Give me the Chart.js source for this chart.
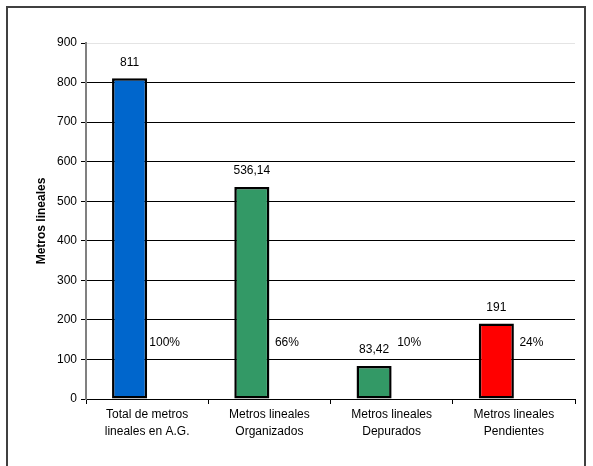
<!DOCTYPE html>
<html>
<head>
<meta charset="utf-8">
<script src="https://cdn.jsdelivr.net/npm/chart.js@4/dist/chart.umd.min.js"></script>
<style>
  html, body { margin: 0; padding: 0; background: #fff; }
  #wrap { width: 593px; height: 466px; position: relative; }
</style>
</head>
<body>
<div id="wrap"><canvas id="chart"></canvas></div>
<script>
// data
const categories = [
  ['Total de metros', 'lineales en A.G.'],
  ['Metros lineales', 'Organizados'],
  ['Metros lineales', 'Depurados'],
  ['Metros lineales', 'Pendientes']
];
const metros = [811, 536.14, 83.42, 191];
const porcentajes = [1, 0.66, 0.10, 0.24];
const yTicks = [0, 100, 200, 300, 400, 500, 600, 700, 800, 900];

const barColors = ['#0066CC', '#339966', '#339966', '#FF0000'];
const pctColors = ['#000000', '#ffffff', '#ffffff', '#ffffff'];
const fontFamily = '"Liberation Sans", Arial, sans-serif';

// frame round the whole chart
const framePlugin = {
  id: 'frame',
  beforeDraw(chart) {
    const ctx = chart.ctx;
    ctx.save();
    ctx.fillStyle = '#fff';
    ctx.fillRect(0, 0, chart.width, chart.height);
    ctx.strokeStyle = '#404040';
    ctx.lineWidth = 2;
    ctx.strokeRect(7, 7, 578, 480);
    ctx.restore();
  }
};

// value labels: numbers above bars, percents floating next to them
const labelPlugin = {
  id: 'labels',
  afterDatasetsDraw(chart) {
    const ctx = chart.ctx;
    const y = chart.scales.y;
    ctx.save();
    ctx.font = '12px ' + fontFamily;
    ctx.fillStyle = '#000';
    ctx.textAlign = 'center';
    ctx.textBaseline = 'middle';
    chart.getDatasetMeta(0).data.forEach((bar, i) => {
      ctx.fillText(String(metros[i]).replace('.', ','), bar.x, bar.y - 16);
    });
    chart.getDatasetMeta(1).data.forEach((bar, i) => {
      ctx.fillText(Math.round(porcentajes[i] * 100) + '%', bar.x, y.getPixelForValue(143));
    });
    ctx.restore();
  }
};

new Chart(document.getElementById('chart'), {
  type: 'bar',
  data: {
    labels: categories,
    datasets: [
      {
        label: 'Metros lineales',
        data: metros,
        backgroundColor: barColors,
        borderColor: '#000',
        borderWidth: 2.5,
        borderSkipped: false,
        categoryPercentage: 0.574,
        barPercentage: 1
      },
      {
        label: 'Porcentaje',
        data: porcentajes,
        backgroundColor: pctColors,
        borderWidth: 0,
        categoryPercentage: 0.574,
        barPercentage: 1
      }
    ]
  },
  options: {
    responsive: true,
    maintainAspectRatio: false,
    animation: false,
    layout: { padding: { left: 30, top: 43, right: 18, bottom: 0 } },
    plugins: {
      legend: { display: false },
      tooltip: { enabled: false }
    },
    scales: {
      x: {
        offset: true,
        grid: {
          offset: true,
          drawOnChartArea: false,
          drawTicks: true,
          tickLength: 5,
          tickColor: '#000'
        },
        border: { color: '#000', width: 1 },
        ticks: {
          color: '#000',
          padding: 3,
          maxRotation: 0,
          autoSkip: false,
          font: { family: fontFamily, size: 12, lineHeight: 1.35 }
        },
        afterFit(scale) { scale.height = 67; }
      },
      y: {
        min: 0,
        max: 900,
        afterBuildTicks(scale) { scale.ticks = yTicks.map(v => ({ value: v })); },
        grid: {
          color: ctx => (ctx.tick && ctx.tick.value === 900 ? '#e4e4e4' : '#000'),
          tickColor: '#000',
          tickLength: 5,
          lineWidth: 1
        },
        border: { color: '#808080', width: 2 },
        ticks: {
          color: '#000',
          padding: 4,
          font: { family: fontFamily, size: 12 }
        },
        title: {
          display: true,
          text: 'Metros lineales',
          color: '#000',
          font: { family: fontFamily, size: 12, weight: 'bold' }
        },
        afterFit(scale) { scale.width = 56; }
      }
    }
  },
  plugins: [framePlugin, labelPlugin]
});
</script>
</body>
</html>
